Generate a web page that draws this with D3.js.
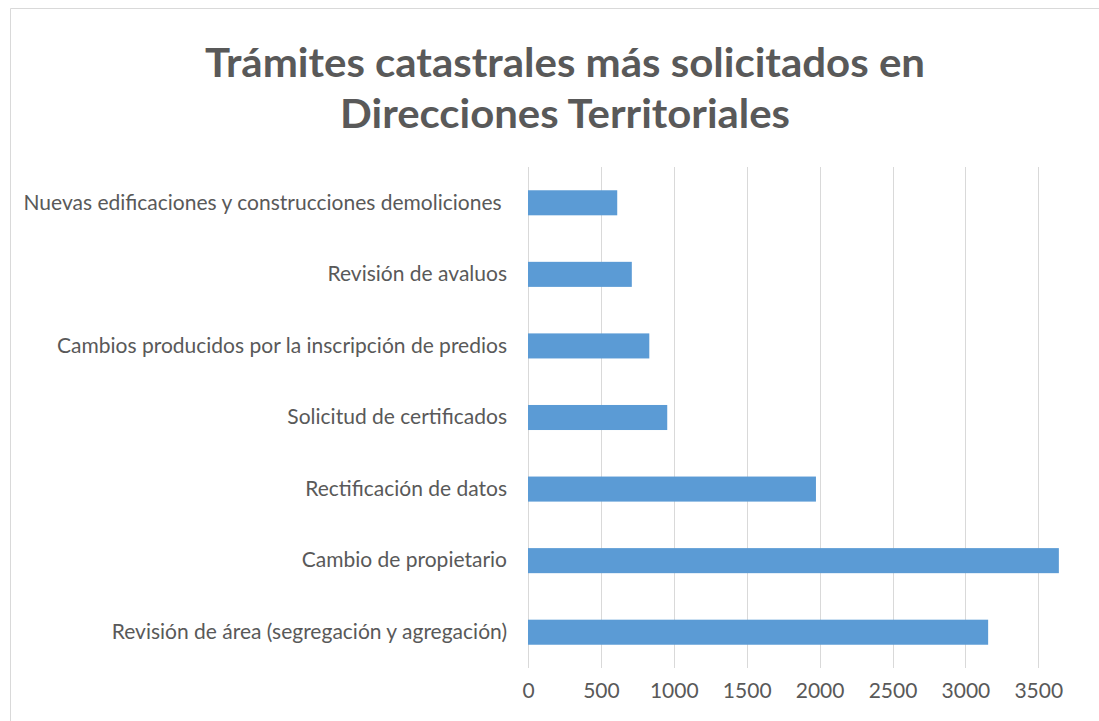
<!DOCTYPE html>
<html>
<head>
<meta charset="utf-8">
<script src="https://cdn.jsdelivr.net/npm/d3@7"></script>
<style>
  html, body { margin: 0; padding: 0; background: #ffffff; }
  svg { display: block; }
</style>
</head>
<body>
<div id="chart"></div>
<script>
const titleLines = ["Trámites catastrales más solicitados en", "Direcciones Territoriales"];
const categories = [
  "Nuevas edificaciones y construcciones demoliciones ",
  "Revisión de avaluos",
  "Cambios producidos por la inscripción de predios",
  "Solicitud de certificados",
  "Rectificación de datos",
  "Cambio de propietario",
  "Revisión de área (segregación y agregación)"
];
const values = [612, 712, 832, 955, 1975, 3641, 3156];
const tickValues = [0, 500, 1000, 1500, 2000, 2500, 3000, 3500];
const axisMax = 4000;

const W = 1099, H = 721;
const svg = d3.select("#chart").append("svg").attr("width", W).attr("height", H);

// chart frame (cropped on right/bottom)
svg.append("path")
  .attr("d", "M10.5,721 L10.5,8.5 L1099,8.5")
  .attr("fill", "none").attr("stroke", "#d9d9d9").attr("stroke-width", 1);

const plot = { left: 528, top: 167, bottom: 668 };
const x = d3.scaleLinear().domain([0, axisMax]).range([plot.left, plot.left + 0.1458 * axisMax]);
const y = d3.scaleBand().domain(categories).range([plot.top, plot.bottom]).paddingInner(0.65).paddingOuter(0.325);

const fontFam = "Lato, 'Open Sans', sans-serif";
const textColor = "#595959";

// gridlines
svg.append("g").selectAll("line").data(tickValues).join("line")
  .attr("x1", d => Math.round(x(d)) + 0.5).attr("x2", d => Math.round(x(d)) + 0.5)
  .attr("y1", plot.top).attr("y2", plot.bottom)
  .attr("stroke", "#d9d9d9").attr("stroke-width", 1);

// bars
svg.append("g").selectAll("rect").data(categories).join("rect")
  .attr("x", x(0))
  .attr("y", d => y(d))
  .attr("width", (d, i) => x(values[i]) - x(0))
  .attr("height", y.bandwidth())
  .attr("fill", "#5b9bd5");

// x axis labels
const xAxis = d3.axisBottom(x).tickValues(tickValues).tickFormat(d3.format("d")).tickSize(0).tickPadding(0);
const gx = svg.append("g").attr("transform", `translate(0, ${plot.bottom + 15})`).call(xAxis);
gx.select(".domain").remove();
gx.selectAll("text").attr("fill", textColor).attr("font-family", fontFam).attr("font-size", 21)
  .attr("dy", "0.71em");

// y axis labels
const yAxis = d3.axisLeft(y).tickSize(0).tickPadding(0);
const gy = svg.append("g").attr("transform", `translate(507, 0)`).call(yAxis);
gy.select(".domain").remove();
gy.selectAll("text").attr("fill", textColor).attr("font-family", fontFam).attr("font-size", 21)
  .style("white-space", "pre");

// title
const titleWidths = [720, 450];
svg.append("g").selectAll("text").data(titleLines).join("text")
  .attr("x", 565).attr("y", (d, i) => 77 + i * 51)
  .attr("text-anchor", "middle")
  .attr("font-family", fontFam).attr("font-weight", "bold").attr("font-size", 41)
  .attr("textLength", (d, i) => titleWidths[i]).attr("lengthAdjust", "spacingAndGlyphs")
  .attr("fill", textColor)
  .text(d => d);
</script>
</body>
</html>
